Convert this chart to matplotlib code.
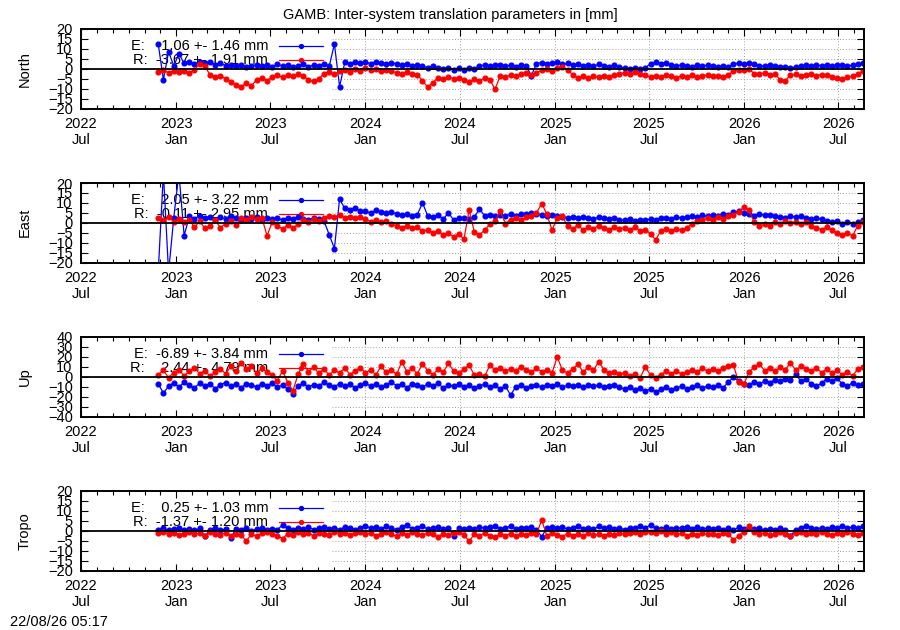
import matplotlib
matplotlib.use("Agg")
import matplotlib.pyplot as plt
import matplotlib.dates as mdates
import pandas as pd

plt.rcParams['font.family'] = ['Liberation Sans', 'DejaVu Sans']
plt.rcParams['font.size'] = 10.5

# one solution every 10 days, Nov 2022 .. Aug 2026
dates = pd.date_range('2022-11-27', periods=137, freq='10D')

north_e = [12.5, -5.5, 8.5, 1.5,
           7.5, 2.8, 3.4, 2.2, 3.6, 2.9, 3.3, 2.1, 2.7, 1.6, 2.0, 1.2, 1.8, 0.9, 1.5, 2.1, 1.3, 1.7,
           1.0, 2.2, 1.4, 1.9, 0.8, 1.6, 2.3, 1.1, 1.8, 1.4, 2.4, 1.2, 12.5, -9.0, 3.2, 2.6, 3.5, 2.8,
           3.3, 2.5, 3.6, 2.9, 2.2, 3.0, 2.4, 1.8, 2.6, 1.5, 2.1, 1.2, 0.6, 1.3, 0.4, -0.2, 0.5, -0.6, 0.2,
           -0.4, 0.6, 0.1, 1.4, 1.9, 1.2, 1.7, 2.1, 1.3, 1.8, 1.1, 2.0, 1.5, -3.5, 2.6, 3.1, 2.4, 2.9,
           3.3, 2.2, 2.7, 1.8, 2.4, 1.5, 2.0, 1.3, 2.2, 1.6, 1.1, 1.9, 0.8, 0.2, -0.3, 0.4, -0.1, 0.6, 2.4,
           3.2, 2.6, 3.0, 1.9, 1.3, 2.0, 1.5, 1.0, 1.7, 1.2, 1.9, 1.4, 0.9, 1.6, 1.1, 2.3, 2.8, 2.2,
           3.0, 2.4, 1.6, 1.2, 1.9, 1.4, 0.7, 1.1, 0.4, 0.9, 1.3, 1.8, 1.4, 2.0, 1.5, 1.9, 1.3, 1.7,
           2.0, 1.4, 1.8, 2.2, 3.0]
north_r = [-1.5, -0.8, -2.0, -1.2,
           -1.8, -1.0, -2.2, -0.5, 2.5, 1.2, -3.0, -4.2, -3.5, -5.0, -6.5, -8.2, -9.0, -7.4, -8.5, -5.5, -4.5, -6.0,
           -4.0, -3.2, -4.4, -3.0, -3.8, -2.8, -3.6, -5.8, -6.3, -5.0, -2.4, -1.5, -2.8, -1.2, -0.5, -1.4, -0.3, -1.0,
           0.2, -0.8, -0.2, -1.2, -0.4, -1.0, -2.2, -2.8, -1.8, -2.6, -3.0, -6.0, -9.2, -7.0, -4.5, -5.2, -4.0, -5.0, -4.6,
           -5.8, -6.8, -5.0, -6.2, -4.5, -5.5, -10.3, -3.6, -4.2, -3.2, -3.8, -2.8, -2.2, -3.0, -2.0, -0.8, -0.2, -1.0,
           0.3, 0.8, -0.4, -3.2, -4.5, -3.6, -4.8, -3.8, -4.2, -3.4, -4.4, -3.0, -2.6, -2.0, -2.8, -1.8, -2.4, -3.2, -4.2,
           -3.6, -4.4, -3.0, -3.8, -4.6, -3.4, -4.0, -3.2, -4.2, -3.6, -3.0, -3.8, -3.4, -4.0, -3.2, -1.2, -0.4, -0.8,
           -0.2, -2.4, -2.8, -2.0, -3.0, -2.6, -5.5, -6.0, -3.2, -2.8, -3.5, -3.0, -2.6, -3.4, -2.9, -3.2, -4.0, -4.8,
           -5.0, -4.4, -3.8, -2.6, -1.0]

east_e = [-25, 25, -25, 2.5,
          25, -6.5, 3.2, 2.0, 3.6, 2.4, 3.0, 1.6, 2.8, 1.9, 3.3, 2.2, 1.4, 2.6, 1.8, 2.9, 1.5, 2.3,
          1.8, 2.6, 1.3, 2.4, 1.7, 2.9, 2.0, 1.4, 2.5, 1.9, 0.8, -6.0, -13.0, 12.0, 7.2, 6.5, 7.4, 6.0,
          5.8, 5.0, 6.2, 5.4, 4.8, 5.3, 4.6, 3.8, 4.2, 3.4, 4.0, 10.0, 3.6, 3.0, 3.8, 1.8, 5.0, 1.4, 2.2,
          2.6, 1.9, 2.8, 7.0, 3.4, 4.0, 3.2, 3.8, 3.5, 4.2, 3.6, 4.6, 4.2, 5.0, 4.4, 3.8, 3.2, 4.0,
          3.4, 3.0, 2.4, 2.8, 2.2, 3.0, 2.6, 2.0, 2.8, 2.3, 1.8, 2.5, 1.6, 1.2, 1.9, 1.0, 1.6, 1.3, 2.0,
          1.5, 2.2, 2.6, 2.0, 2.8, 2.4, 3.0, 3.4, 2.9, 3.8, 3.2, 4.0, 3.5, 4.2, 3.8, 5.2, 5.8, 5.0,
          4.2, 3.6, 4.4, 3.8, 4.0, 3.2, 3.0, 2.6, 3.4, 2.8, 3.2, 2.5, 2.0, 2.4, 1.8, 0.8, 0.2, 1.0,
          -0.4, 0.6, -0.8, 0.3, 1.2]
east_r = [2.4, 1.2, 2.8, 0.6,
          1.8, 0.2, 1.4, -2.2, 0.8, -2.8, -1.6, 1.2, -2.4, -0.6, 0.9, -1.2, 2.2, 1.4, 3.0, 1.8, 2.6, -6.5,
          0.2, -1.8, -3.0, -1.2, -2.6, -0.8, 1.2, 0.4, 1.8, 0.9, 2.2, 3.6, 2.8, 3.8, 2.4, 3.0, 2.2, 2.8,
          1.8, 0.6, 1.2, 0.2, 0.8, -0.4, -1.8, -2.6, -1.4, -2.8, -2.2, -4.2, -3.4, -5.2, -4.4, -6.0, -5.0, -7.2, -5.6,
          -8.4, 6.5, -4.6, -6.0, -3.8, -0.6, 0.8, 5.8, -0.4, 1.6, 2.4, 1.2, 2.8, 3.6, 5.0, 9.6, 4.4, -3.8,
          2.6, 3.4, -1.8, -3.2, -1.0, -3.8, -2.2, -3.0, -1.4, -2.6, -3.6, -2.0, -3.2, -2.4, -3.8, -2.0, -4.2, -3.4, -5.6,
          -8.6, -4.0, -3.2, -4.2, -3.0, -3.8, -2.6, -0.6, 0.8, 1.6, 2.2, 1.4, 2.8, 2.0, 3.4, 3.8, 5.4, 7.8,
          6.2, 0.4, -1.6, -0.8, -1.8, 0.2, -0.6, 0.8, -0.2, 0.6, -0.8, 0.4, -1.4, -2.6, -3.4, -2.2, -3.8, -5.2,
          -6.4, -5.0, -6.6, -1.4, 0.6]

up_e = [-7.0, -16.5, -9.5, -6.0,
        -10.5, -5.5, -8.8, -11.2, -6.4, -9.0, -7.2, -12.0, -8.0, -5.8, -9.6, -7.4, -11.0, -6.8, -8.6, -10.2, -7.0, -9.4,
        -6.2, -10.8, -8.2, -12.4, -17.0, -9.0, -6.6, -10.4, -7.8, -9.2, -5.6, -8.4, -10.0, -6.8, -9.6, -7.2, -11.4, -8.0,
        -6.0, -9.8, -7.4, -10.6, -8.2, -5.4, -9.0, -7.6, -11.0, -6.8, -8.8, -10.4, -7.2, -9.4, -6.4, -11.6, -8.0, -9.8, -7.0,
        -10.2, -8.4, -11.8, -9.0, -7.6, -10.6, -8.8, -12.2, -9.4, -18.6, -10.0, -8.2, -11.4, -9.6, -7.8, -10.8, -8.6, -9.8,
        -7.4, -10.4, -8.6, -9.6, -8.0, -10.8, -7.8, -9.4, -8.4, -10.2, -9.0, -8.2, -10.6, -12.4, -10.8, -13.6, -11.4, -14.8, -12.0,
        -15.2, -12.6, -10.8, -13.2, -11.0, -9.6, -12.0, -10.4, -8.8, -11.6, -9.2, -10.8, -8.4, -11.2, -5.6, -0.6, -4.2, -6.8,
        -8.4, -5.2, -7.6, -4.0, -6.2, -2.8, -4.6, -1.8, -3.6, 2.4, -4.2, -2.6, -7.0, -9.6, -6.4, -2.4, -3.8, -1.6,
        -7.2, -9.4, -6.0, -8.6, -7.4]
up_r = [2.0, 6.5, -1.0, 4.2,
        7.0, 1.2, 5.4, 9.0, 2.8, 6.2, 0.6, 4.8, 8.2, 3.0, 10.4, 5.6, 13.6, 7.4, 11.0, 3.6, 8.4, 4.6,
        1.4, -4.0, 6.0, -5.8, -14.0, 2.6, 13.0, 5.2, 9.6, 3.4, 7.8, 1.6, 6.4, 4.0, 8.8, 2.2, 5.8, 9.2,
        3.8, 7.2, 1.8, 10.6, 4.4, 6.8, 2.4, 15.0, 5.0, 8.6, 3.2, 12.8, 6.2, 2.0, 7.4, 4.6, 13.4, 5.8, 3.4,
        7.6, 11.8, 1.6, 3.0, 0.4, 11.6, 6.6, 9.2, 5.4, 8.0, 6.0, 10.2, 7.0, 4.8, 8.4, 5.2, 7.0, 4.0,
        20.0, 6.4, 3.8, 8.0, 12.4, 5.0, 9.4, 6.6, 15.0, 7.2, 3.6, 5.0, 2.4, 4.2, 0.6, 2.8, -1.2, 9.8, 1.6,
        -0.8, 2.2, 5.4, 3.0, 6.2, 2.4, 4.8, 7.0, 5.2, 8.4, 6.0, 7.8, 5.6, 9.0, 11.2, 12.0, -5.6, -7.6,
        4.8, 9.6, 13.0, 6.2, 8.8, 5.4, 9.4, 7.0, 14.0, 6.6, 10.4, 8.0, 5.8, 9.0, 4.2, 7.6, 3.6, 6.4,
        2.0, 5.2, 0.8, 7.8, 9.4]

tropo_e = [0.6, 1.2, 0.2, 0.9,
           1.4, 0.4, 1.0, 0.2, 1.2, -2.8, 0.6, 1.4, 0.2, 0.8, -3.6, 1.0, 0.4, 1.2, 0.0, 0.8, 1.4, 0.4,
           1.0, 0.6, 2.8, 1.4, 0.4, 1.6, 0.8, 1.8, 0.6, 1.2, 2.0, 0.8, 1.4, 0.6, 1.8, 1.2, 0.4, 1.6,
           2.6, 1.2, 1.8, 0.8, 2.2, 1.4, 0.6, 1.8, 2.8, 1.0, 1.6, 2.4, 0.8, 1.4, 2.0, 1.0, 1.6, -2.8, 1.2,
           0.8, 1.6, 1.0, 2.0, 1.2, 1.8, 2.6, 1.0, 1.4, 2.4, 0.8, 1.6, 1.2, 2.0, 0.6, -3.0, 1.4, 2.0,
           1.2, 1.8, 0.8, 1.6, 2.6, 1.0, 1.4, 0.8, 2.2, 1.2, 1.8, 1.0, 1.4, 0.6, 1.6, 1.2, 2.2, 1.6, 2.8,
           1.4, 1.0, 1.8, 0.8, 1.6, 1.2, 2.0, 1.0, 1.8, 0.8, 1.4, 1.0, 1.6, 0.6, 1.2, 0.2, 1.8, 1.0,
           1.4, 0.8, 1.2, 0.4, 1.0, 0.6, 1.4, 0.2, -2.8, 0.6, 1.6, 2.4, 1.2, 0.8, 1.6, 1.0, 1.8, 1.2,
           2.2, 1.4, 1.8, 1.2, 2.6]
tropo_r = [-1.2, -0.6, -1.8, -1.0,
           -2.2, -1.4, -0.8, -1.8, -1.2, -2.4, -0.6, -1.6, -2.0, -1.0, -2.6, -1.8, -2.2, -5.2, -1.6, -2.8, -1.2, -0.8,
           -1.6, -2.4, -4.0, -1.4, -2.2, -0.8, -1.8, -1.2, -2.6, -1.0, -1.6, -2.0, -0.6, -1.4, -1.0, -2.0, -1.2, -0.8,
           -1.8, -1.0, -2.4, -1.4, -0.6, -1.8, -2.8, -1.2, -2.0, -0.8, -1.6, -2.2, -1.0, -1.8, -3.2, -1.4, -2.2, -1.2, -0.8,
           -2.0, -5.4, -1.6, -2.4, -1.2, -2.6, -3.0, -1.8, -2.4, -1.4, -2.8, -1.6, -2.2, -1.0, -1.8, 5.4, -2.6, -1.2,
           -2.0, -3.0, -1.4, -2.4, -1.6, -2.8, -1.2, -2.2, -1.8, -2.6, -1.4, -2.0, -1.0, -1.8, -1.2, -0.6, -1.4, -0.4, -0.8,
           -1.2, -0.2, -1.6, -0.8, -1.8, -1.2, -2.4, -1.4, -2.0, -1.0, -1.8, -1.4, -2.2, -1.0, -1.6, -4.6, -2.6, -0.4,
           2.4, -0.6, -1.8, -1.0, -2.2, -1.4, -0.8, -1.6, -2.6, -1.2, -0.6, -1.8, -1.0, -1.6, -0.8, -1.4, -2.0, -1.2,
           -1.8, -0.8, -1.4, -2.0, -1.0]

panel_names = ['North', 'East', 'Up', 'Tropo']
panel_e = [north_e, east_e, up_e, tropo_e]
panel_r = [north_r, east_r, up_r, tropo_r]
panel_lim = [20, 20, 40, 20]
panel_step = [5, 5, 10, 5]
legend_e = ['E:    1.06 +- 1.46 mm', 'E:    2.05 +- 3.22 mm', 'E:  -6.89 +- 3.84 mm', 'E:    0.25 +- 1.03 mm']
legend_r = ['R:  -3.67 +- 1.91 mm', 'R:  -0.11 +- 2.95 mm', 'R:    2.44 +- 4.79 mm', 'R:  -1.37 +- 1.20 mm']

xmin = pd.Timestamp('2022-07-01')
xmax = pd.Timestamp('2026-08-20')
grid_dates = pd.to_datetime(['2024-01-01', '2024-07-01', '2025-01-01', '2025-07-01',
                             '2026-01-01', '2026-07-01'])

fig = plt.figure(figsize=(9, 6.3), dpi=100)
tops = [29, 183, 337, 491]
ph = 79.5

for k in range(4):
    ax = fig.add_axes([81 / 900, 1 - (tops[k] + ph) / 630, 783 / 900, ph / 630])
    lim = panel_lim[k]
    step = panel_step[k]

    # dotted grid, hidden behind the key area on the left
    for yv in range(-lim + step, lim, step):
        if yv != 0:
            ax.axhline(yv, xmin=0.32, color='#a0a0a0', ls=(0, (1, 2)), lw=0.7, zorder=0.5)
    for gd in grid_dates:
        ax.axvline(gd, color='#a0a0a0', ls=(0, (1, 2)), lw=0.7, zorder=0.5)

    ax.plot(dates, panel_e[k], color='#0000ff', lw=0.9, marker='o', ms=3.4, zorder=2)
    ax.plot(dates, panel_r[k], color='#ff0000', lw=0.9, marker='o', ms=3.4, zorder=2.1)
    ax.axhline(0, color='black', lw=1.3, zorder=3)

    # key
    ax.text(0.239, 0.792, legend_e[k], transform=ax.transAxes, ha='right', va='center', zorder=1)
    ax.text(0.239, 0.604, legend_r[k], transform=ax.transAxes, ha='right', va='center', zorder=1)
    ax.plot([0.253, 0.309], [0.792, 0.792], color='#0000ff', lw=0.9, transform=ax.transAxes, zorder=1)
    ax.plot([0.281], [0.792], color='#0000ff', marker='o', ms=2.8, transform=ax.transAxes, zorder=1)
    ax.plot([0.253, 0.309], [0.604, 0.604], color='#ff0000', lw=0.9, transform=ax.transAxes, zorder=1)
    ax.plot([0.281], [0.604], color='#ff0000', marker='o', ms=2.8, transform=ax.transAxes, zorder=1)

    ax.set_xlim(xmin, xmax)
    ax.set_ylim(-lim, lim)
    ax.set_yticks(range(-lim, lim + 1, step))
    ax.xaxis.set_major_locator(mdates.MonthLocator(bymonth=[1, 7]))
    ax.xaxis.set_minor_locator(mdates.MonthLocator())
    ax.xaxis.set_major_formatter(mdates.DateFormatter('%Y\n%b'))
    ax.tick_params(which='both', direction='in', top=True, right=True, width=0.8)
    ax.tick_params(which='major', length=5, pad=6)
    ax.tick_params(which='minor', length=3)
    for lab in ax.get_xticklabels():
        lab.set_horizontalalignment('center')
        lab.set_multialignment('center')
    for sp in ax.spines.values():
        sp.set_linewidth(1.4)
    ax.set_ylabel(panel_names[k])
    ax.yaxis.set_label_coords(-(81 - 32) / 783, 0.5)

fig.text(0.5, 1 - 15 / 630, 'GAMB: Inter-system translation parameters in [mm]',
         ha='center', va='center')
fig.text(10 / 900, 1 - 622 / 630, '22/08/26 05:17', ha='left', va='center')

fig.savefig('out.png', dpi=100)
